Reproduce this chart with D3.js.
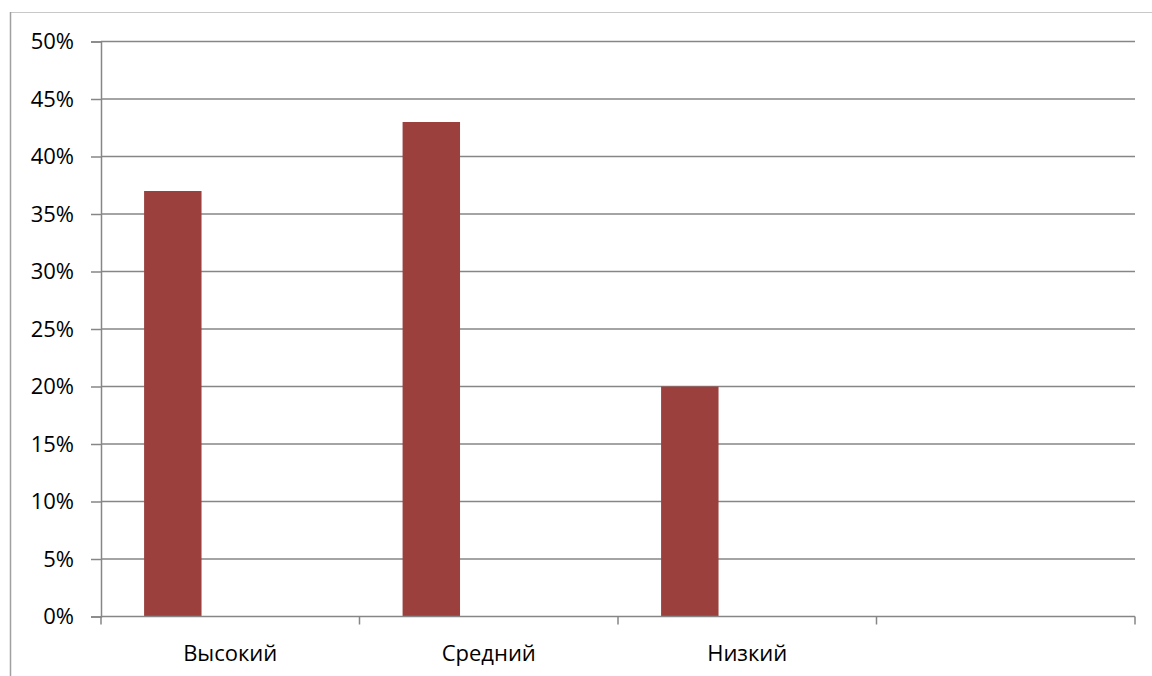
<!DOCTYPE html>
<html>
<head>
<meta charset="utf-8">
<script src="https://cdn.jsdelivr.net/npm/d3@7"></script>
<style>
  html, body { margin: 0; padding: 0; background: #fff; }
  svg { display: block; }
  text { font-family: "Open Sans", "Noto Sans", sans-serif; fill: #000; }
</style>
</head>
<body>
<svg id="chart" width="1152" height="676"></svg>
<script>
// Category labels (the fourth slot is an empty category)
const categories = ["Высокий", "Средний", "Низкий", ""];
// Three series per category; only the first one carries values
const seriesNames = ["Ряд 1", "Ряд 2", "Ряд 3"];
const series1 = [0.37, 0.43, 0.20, null];
const series2 = [null, null, null, null];
const series3 = [null, null, null, null];
const yTicks = [0, 0.05, 0.10, 0.15, 0.20, 0.25, 0.30, 0.35, 0.40, 0.45, 0.50];

const svg = d3.select("#chart");
const W = 1152, H = 676;
const plot = { left: 101, right: 1135, top: 41.5, bottom: 616.5 };
const labelSize = 22;

// Chart area border (top and left edges)
svg.append("line").attr("x1", 10).attr("x2", W).attr("y1", 12.5).attr("y2", 12.5)
  .attr("stroke", "#c8c8c8").attr("stroke-width", 1);
svg.append("line").attr("x1", 10.5).attr("x2", 10.5).attr("y1", 12).attr("y2", H)
  .attr("stroke", "#a0a0a0").attr("stroke-width", 1.5);

const x = d3.scaleBand().domain(categories.map((c, i) => i))
  .range([plot.left, plot.right]).paddingInner(0).paddingOuter(0);

// Clustered layout: gap width 150% of a bar, three bars per group
const gapRatio = 1.5;
const barW = x.bandwidth() / (seriesNames.length + gapRatio);
const xs = d3.scaleBand().domain(seriesNames)
  .range([barW * gapRatio / 2, barW * gapRatio / 2 + barW * seriesNames.length]);

const y = d3.scaleLinear().domain([0, 0.5]).range([plot.bottom, plot.top]);

const gridColor = "#868686";

// Horizontal gridlines
svg.append("g").selectAll("line").data(yTicks.slice(1)).join("line")
  .attr("x1", plot.left).attr("x2", plot.right)
  .attr("y1", d => y(d)).attr("y2", d => y(d))
  .attr("stroke", gridColor).attr("stroke-width", 1.5);

// Value axis
const yAxis = d3.axisLeft(y).tickValues(yTicks).tickSize(10).tickPadding(17)
  .tickFormat(d => Math.round(d * 100) + "%");
const gy = svg.append("g").attr("transform", `translate(${plot.left},0)`).call(yAxis);
gy.attr("font-size", null).attr("font-family", null);
gy.select(".domain").attr("stroke", gridColor).attr("stroke-width", 1.5);
gy.selectAll(".tick line").attr("stroke", gridColor).attr("stroke-width", 1.5);
gy.selectAll(".tick text").attr("font-size", labelSize).attr("fill", "#000");

// Bars
const allSeries = [series1, series2, series3];
const barData = [];
categories.forEach((c, i) => {
  seriesNames.forEach((s, j) => {
    const v = allSeries[j][i];
    if (v != null) barData.push({ i, s, v });
  });
});
svg.append("g").selectAll("rect").data(barData).join("rect")
  .attr("x", d => x(d.i) + xs(d.s))
  .attr("width", xs.bandwidth())
  .attr("y", d => y(d.v))
  .attr("height", d => y(0) - y(d.v))
  .attr("fill", "#9c403e");

// Category axis
const bounds = categories.map((c, i) => x(i)).concat([x(categories.length - 1) + x.bandwidth()]);
const gx = svg.append("g");
gx.append("line").attr("x1", plot.left).attr("x2", plot.right)
  .attr("y1", y(0)).attr("y2", y(0)).attr("stroke", gridColor).attr("stroke-width", 1.5);
gx.selectAll("line.tick").data(bounds).join("line").attr("class", "tick")
  .attr("x1", d => d).attr("x2", d => d)
  .attr("y1", y(0)).attr("y2", y(0) + 8)
  .attr("stroke", gridColor).attr("stroke-width", 1.5);
gx.selectAll("text").data(categories).join("text")
  .attr("x", (d, i) => x(i) + x.bandwidth() / 2)
  .attr("y", 661)
  .attr("text-anchor", "middle")
  .attr("font-size", labelSize)
  .text(d => d);
</script>
</body>
</html>
